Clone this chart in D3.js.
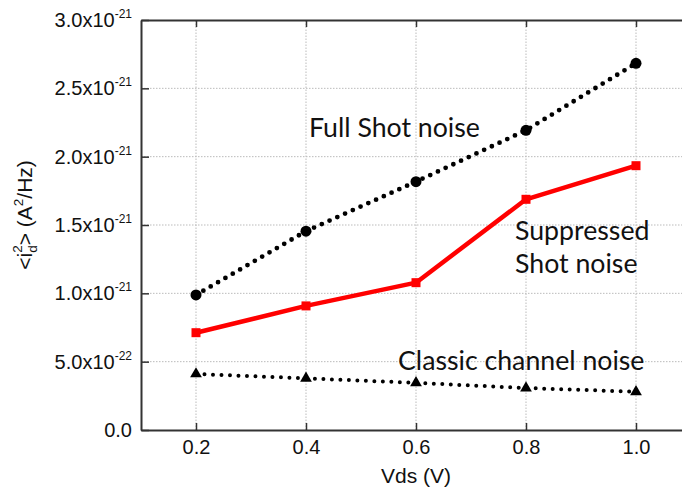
<!DOCTYPE html>
<html><head><meta charset="utf-8">
<script src="https://cdn.jsdelivr.net/npm/d3@7"></script>
<style>body{margin:0;background:#fff}svg{display:block}</style>
</head><body>
<script>
const vds = [0.2, 0.4, 0.6, 0.8, 1.0];
const fullShot = [0.988e-21, 1.455e-21, 1.817e-21, 2.193e-21, 2.683e-21];
const suppressedShot = [0.712e-21, 0.908e-21, 1.078e-21, 1.688e-21, 1.934e-21];
const classicChannel = [0.41e-21, 0.378e-21, 0.345e-21, 0.307e-21, 0.28e-21];
const xTicks = [0.2, 0.4, 0.6, 0.8, 1.0];
const yTicks = [0, 0.5e-21, 1.0e-21, 1.5e-21, 2.0e-21, 2.5e-21, 3.0e-21];
const yTickMain = ["0.0", "5.0x10", "1.0x10", "1.5x10", "2.0x10", "2.5x10", "3.0x10"];
const yTickExp = ["", "-22", "-21", "-21", "-21", "-21", "-21"];

(function () {
const W = 682, H = 492;
const svg = d3.select("body").append("svg").attr("width", W).attr("height", H);
const x = d3.scaleLinear().domain([0.1, 1.1]).range([141, 691]);
const y = d3.scaleLinear().domain([0, 3.0e-21]).range([430, 20]);
const axisCol = "#333";

// grid
const grid = svg.append("g");
grid.selectAll(".gx").data(xTicks).join("line")
  .attr("x1", d => x(d)).attr("x2", d => x(d)).attr("y1", y(0)).attr("y2", y(3e-21))
  .attr("stroke", "#bbb").attr("stroke-width", 1).attr("stroke-dasharray", "1.5 1.5");
grid.selectAll(".gy").data(yTicks.slice(1, -1)).join("line")
  .attr("x1", x(0.1)).attr("x2", x(1.1)).attr("y1", d => y(d)).attr("y2", d => y(d))
  .attr("stroke", "#bbb").attr("stroke-width", 1).attr("stroke-dasharray", "1.5 1.5");

// axes
const fs = "'Liberation Sans', Arial, sans-serif";
const gBottom = svg.append("g").attr("transform", `translate(0,${y(0)})`)
  .call(d3.axisBottom(x).tickValues(xTicks).tickSizeInner(-7).tickSizeOuter(0).tickPadding(10).tickFormat(d3.format(".1f")));
const gTop = svg.append("g").attr("transform", `translate(0,${y(3e-21)})`)
  .call(d3.axisTop(x).tickValues(xTicks).tickSizeInner(-7).tickSizeOuter(0).tickFormat(""));
const gLeft = svg.append("g").attr("transform", `translate(${x(0.1)},0)`)
  .call(d3.axisLeft(y).tickValues(yTicks).tickSizeInner(-8).tickSizeOuter(0).tickFormat(""));
const gRight = svg.append("g").attr("transform", `translate(${x(1.1)},0)`)
  .call(d3.axisRight(y).tickValues(yTicks).tickSizeInner(-8).tickSizeOuter(0).tickFormat(""));
[gBottom, gTop, gLeft, gRight].forEach(g => {
  g.select(".domain").attr("stroke", axisCol).attr("stroke-width", 2);
  g.selectAll(".tick line").attr("stroke", axisCol).attr("stroke-width", 1.5);
});
gBottom.selectAll(".tick text").attr("font-family", fs).attr("font-size", 20).attr("fill", "#111").attr("dy", "0.71em");

// y tick labels with superscripts
const yl = svg.append("g").selectAll("text").data(yTicks).join("text")
  .attr("x", 132).attr("y", d => y(d) + 7).attr("text-anchor", "end")
  .attr("font-family", fs).attr("font-size", 20).attr("fill", "#111");
yl.append("tspan").text((d, i) => yTickMain[i]);
yl.append("tspan").attr("font-size", 12).attr("dy", -9).text((d, i) => yTickExp[i]);

// x label
svg.append("text").attr("x", x(0.6)).attr("y", 483).attr("text-anchor", "middle")
  .attr("font-family", fs).attr("font-size", 21).attr("fill", "#111").text("Vds (V)");

// y label
const ylab = svg.append("text").attr("transform", "translate(32,215) rotate(-90)")
  .attr("text-anchor", "middle").attr("font-family", fs).attr("font-size", 21).attr("fill", "#111");
ylab.append("tspan").text("<i");
ylab.append("tspan").attr("font-size", 13.5).attr("dy", 5).text("d");
ylab.append("tspan").attr("font-size", 13.5).attr("dx", -7.5).attr("dy", -15).text("2");
ylab.append("tspan").attr("dy", 10).text(">");
ylab.append("tspan").text(" (A");
ylab.append("tspan").attr("font-size", 13.5).attr("dy", -9).text("2");
ylab.append("tspan").attr("dy", 9).text("/Hz)");

// series
const line = d3.line().x(d => x(d[0])).y(d => y(d[1]));
const fullPts = vds.map((v, i) => [v, fullShot[i]]);
const supPts = vds.map((v, i) => [v, suppressedShot[i]]);
const clsPts = vds.map((v, i) => [v, classicChannel[i]]);

svg.append("path").datum(fullPts).attr("d", line).attr("fill", "none")
  .attr("stroke", "#000").attr("stroke-width", 4.8).attr("stroke-linecap", "round").attr("stroke-dasharray", "0 8.5");
svg.append("path").datum(clsPts).attr("d", line).attr("fill", "none")
  .attr("stroke", "#000").attr("stroke-width", 4).attr("stroke-linecap", "round").attr("stroke-dasharray", "0 8.5");
svg.append("path").datum(supPts).attr("d", line).attr("fill", "none")
  .attr("stroke", "#ff0000").attr("stroke-width", 4.5).attr("stroke-linejoin", "round");

svg.append("g").selectAll("circle").data(fullPts).join("circle")
  .attr("cx", d => x(d[0])).attr("cy", d => y(d[1])).attr("r", 5.5).attr("fill", "#000");
svg.append("g").selectAll("rect").data(supPts).join("rect")
  .attr("x", d => x(d[0]) - 4.5).attr("y", d => y(d[1]) - 4.5).attr("width", 9).attr("height", 9).attr("fill", "#ff0000");
const tri = d3.symbol().type(d3.symbolTriangle).size(60);
svg.append("g").selectAll("path").data(clsPts).join("path")
  .attr("transform", d => `translate(${x(d[0])},${y(d[1])})`).attr("d", tri).attr("fill", "#000");

// annotations
const af = "Lato, 'Open Sans', sans-serif";
const ann = [["Full Shot noise", 309, 137], ["Suppressed", 515, 240], ["Shot noise", 515, 273], ["Classic channel noise", 398, 370]];
svg.append("g").selectAll("text").data(ann).join("text")
  .attr("x", d => d[1]).attr("y", d => d[2]).attr("font-family", af).attr("font-size", 26.7).attr("fill", "#111")
  .text(d => d[0]);
})();
</script>
</body></html>
